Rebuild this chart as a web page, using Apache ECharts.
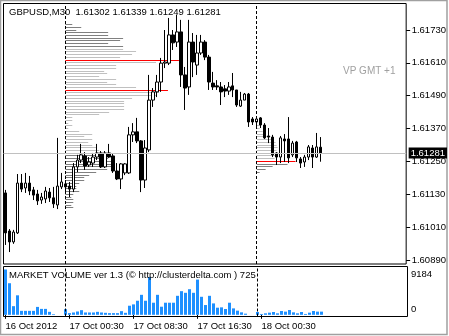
<!DOCTYPE html>
<html><head><meta charset="utf-8">
<script src="https://cdn.jsdelivr.net/npm/echarts@6/dist/echarts.min.js"></script>
<style>html,body{margin:0;padding:0;background:#fff;}#c{width:449px;height:336px;}</style>
</head><body><div id="c"></div>
<script>
const symbolName = 'GBPUSD,M30';
const FONT = '"Liberation Sans", Arial, sans-serif';

// candles: [open, close, low, high], first bar = 16 Oct 16:30, M30
const candles = [
[1.61135,1.60989,1.60945,1.61146],[1.60996,1.60956,1.60919,1.61003],[1.60956,1.60992,1.60949,1.61000],
[1.60989,1.61171,1.60985,1.61204],[1.61171,1.61149,1.61138,1.61204],[1.61153,1.61171,1.61135,1.61208],
[1.61171,1.61142,1.61127,1.61197],[1.61146,1.61127,1.61109,1.61157],[1.61131,1.61106,1.61091,1.61146],
[1.61109,1.61120,1.61095,1.61135],[1.61113,1.61142,1.61098,1.61157],[1.61138,1.61117,1.61102,1.61153],
[1.61117,1.61095,1.61080,1.61157],[1.61091,1.61160,1.61076,1.61336],[1.61157,1.61175,1.61149,1.61208],
[1.61168,1.61157,1.61138,1.61182],[1.61160,1.61149,1.61120,1.61175],[1.61149,1.61230,1.61138,1.61244],
[1.61230,1.61255,1.61211,1.61274],[1.61255,1.61274,1.61244,1.61314],[1.61270,1.61233,1.61219,1.61284],
[1.61237,1.61248,1.61230,1.61266],[1.61244,1.61266,1.61230,1.61281],[1.61266,1.61281,1.61255,1.61314],
[1.61281,1.61230,1.61226,1.61288],[1.61230,1.61281,1.61226,1.61288],[1.61281,1.61266,1.61263,1.61314],
[1.61270,1.61215,1.61208,1.61277],[1.61215,1.61186,1.61182,1.61244],[1.61186,1.61241,1.61149,1.61244],
[1.61208,1.61241,1.61200,1.61244],[1.61208,1.61347,1.61204,1.61376],[1.61347,1.61358,1.61321,1.61390],
[1.61358,1.61325,1.61317,1.61409],[1.61325,1.61182,1.61138,1.61328],[1.61182,1.61299,1.61153,1.61328],
[1.61292,1.61474,1.61284,1.61566],[1.61474,1.61504,1.61449,1.61518],[1.61504,1.61540,1.61485,1.61566],
[1.61540,1.61609,1.61504,1.61628],[1.61609,1.61613,1.61591,1.61730],[1.61609,1.61712,1.61602,1.61774],
[1.61712,1.61683,1.61657,1.61730],[1.61686,1.61723,1.61668,1.61785],[1.61723,1.61566,1.61522,1.61767],
[1.61566,1.61518,1.61438,1.61595],[1.61522,1.61686,1.61493,1.61767],[1.61686,1.61613,1.61558,1.61719],
[1.61602,1.61646,1.61566,1.61712],[1.61646,1.61686,1.61639,1.61712],[1.61686,1.61631,1.61620,1.61693],
[1.61631,1.61540,1.61511,1.61639],[1.61536,1.61522,1.61511,1.61577],[1.61526,1.61522,1.61511,1.61547],
[1.61522,1.61504,1.61456,1.61540],[1.61515,1.61507,1.61485,1.61529],[1.61507,1.61522,1.61493,1.61540],
[1.61526,1.61511,1.61485,1.61573],[1.61511,1.61456,1.61449,1.61511],[1.61452,1.61474,1.61449,1.61504],
[1.61474,1.61496,1.61474,1.61500],[1.61496,1.61394,1.61376,1.61500],[1.61405,1.61394,1.61383,1.61412],
[1.61394,1.61405,1.61376,1.61412],[1.61409,1.61383,1.61372,1.61412],[1.61383,1.61336,1.61332,1.61390],
[1.61343,1.61339,1.61317,1.61372],[1.61339,1.61274,1.61266,1.61347],[1.61281,1.61266,1.61237,1.61284],
[1.61266,1.61336,1.61244,1.61343],[1.61332,1.61325,1.61248,1.61350],[1.61332,1.61263,1.61244,1.61412],
[1.61274,1.61317,1.61266,1.61325],[1.61321,1.61263,1.61248,1.61325],[1.61259,1.61244,1.61226,1.61266],
[1.61248,1.61266,1.61230,1.61274],[1.61266,1.61303,1.61255,1.61310],[1.61299,1.61266,1.61226,1.61310],
[1.61266,1.61303,1.61263,1.61354],[1.61302,1.61281,1.61249,1.61339]
];

const volumes = [
9184,6400,1750,3950,800,800,800,800,1600,1200,1200,600,130,0,0,1140,
340,470,670,940,470,470,470,600,470,400,340,340,340,740,400,1840,
2110,2850,4050,2850,7670,2450,4050,1640,2450,2450,2450,3850,4790,4460,5190,4460,
7140,3650,1980,3850,2310,1440,1510,1170,2450,1300,840,500,230,0,0,
570,170,300,435,570,300,770,640,970,500,300,570,170,435,770,640,640
];

const priceTicks = [1.61730,1.61610,1.61490,1.61370,1.61250,1.61130,1.61010,1.60890];
const volumeTicks = [0, 9184];
const timeTickIdx = [0,16,32,48,64];
const timeTickText = ['16 Oct 2012','17 Oct 00:30','17 Oct 08:30','17 Oct 16:30','18 Oct 00:30'];
const daySeparatorIdx = [15, 63];
const currentPrice = 1.61281;

// volume profile 17 Oct (start bar 15)
const vp17Prices = [1.6175,1.6174,1.6173,1.6172,1.6171,1.6170,1.6169,1.6168,1.6167,1.6166,1.6165,1.6164,1.6163,1.6162,1.6161,1.6160,1.6159,1.6158,1.6157,1.6156,1.6155,1.6154,1.6153,1.6152,1.6151,1.6150,1.6149,1.6148,1.6147,1.6146,1.6145,1.6144,1.6143,1.6142,1.6141,1.6140,1.6139,1.6138,1.6137,1.6136,1.6135,1.6134,1.6133,1.6132,1.6131,1.6130,1.6129,1.6128,1.6127,1.6126,1.6125,1.6124,1.6123,1.6122,1.6121,1.6120,1.6119,1.6118,1.6117,1.6116,1.6115,1.6114,1.6113,1.6112,1.6111,1.6110,1.6109,1.6108];
const vp17Vol = [7,16,11,43,43,58,55,43,58,58,71,67,55,114,91,51,51,39,42,34,51,42,51,71,103,94,91,67,59,59,59,59,44,34,7,7,3,7,3,14,27,19,27,23,27,31,34,39,42,43,49,49,48,42,31,24,19,19,14,11,11,14,8,6,8,8,6,8];
const vp17Start = 15, vp17VaHigh = 1.6166, vp17VaLow = 1.6129, vp17Poc = [1.6162, 1.6151];
// volume profile 18 Oct (start bar 63)
const vp18Prices = [1.6138,1.6137,1.6136,1.6135,1.6134,1.6133,1.6132,1.6131,1.6130,1.6129,1.6128,1.6127,1.6126,1.6125,1.6124,1.6123,1.6122,1.6121];
const vp18Vol = [4,3,6,9,14,16,19,20,21,20,23,19,18,39,31,16,9,3];
const vp18Start = 63, vp18VaHigh = 1.6138, vp18VaLow = 1.6126, vp18Poc = [1.6125];

const TOTAL_BARS = 101;
const categories = [];
(function(){
  const t0 = Date.UTC(2012, 9, 16, 16, 30);
  const p = n => (n < 10 ? '0' : '') + n;
  for (let i = 0; i < TOTAL_BARS; i++) {
    const d = new Date(t0 + i * 1800000);
    categories.push(d.getUTCDate() + ' Oct ' + p(d.getUTCHours()) + ':' + p(d.getUTCMinutes()));
  }
})();

function buildProfile(prices, vols, start, vaH, vaL, pocs) {
  return prices.map((pr, i) => {
    let kind = (pr <= vaH + 1e-9 && pr >= vaL - 1e-9) ? 0 : 1;
    if (pocs.some(q => Math.abs(q - pr) < 1e-9)) kind = 2;
    return [start, pr, vols[i], kind];
  });
}
const profileData = buildProfile(vp17Prices, vp17Vol, vp17Start, vp17VaHigh, vp17VaLow, vp17Poc)
  .concat(buildProfile(vp18Prices, vp18Vol, vp18Start, vp18VaHigh, vp18VaLow, vp18Poc));
const profileColors = ['#c0c0c0', '#808080', '#ff0000'];

const last = candles[candles.length - 1];
const fmt = v => v.toFixed(5);
const header = symbolName + '  ' + fmt(last[0]) + ' ' + fmt(last[3]) + ' ' + fmt(last[2]) + ' ' + fmt(last[1]);

const chart = echarts.init(document.getElementById('c'), null, {renderer: 'canvas'});
const txt = {fontFamily: FONT, fontSize: 9.5, color: '#000', fontWeight: 'normal'};
const sepStyle = {color: '#000', type: [3, 2], width: 1};

chart.setOption({
  animation: false,
  backgroundColor: '#fff',
  textStyle: {fontFamily: FONT},
  title: [
    {text: header, left: 9, top: 7, padding: 0, textStyle: txt},
    {text: 'VP GMT +1', left: 343, top: 66, padding: 0, textStyle: Object.assign({}, txt, {color: '#a0a0a0', fontSize: 10})},
    {text: 'MARKET VOLUME ver 1.3 (\u00a9 http://clusterdelta.com ) 725', left: 9, top: 270.5, padding: 0, textStyle: txt}
  ],
  graphic: [{type: 'rect', shape: {x: 0.5, y: 0.5, width: 446.5, height: 334}, style: {fill: null, stroke: '#a0a0a0', lineWidth: 1.5}, silent: true}],
  grid: [
    {left: 3.5, top: 3.5, width: 404, height: 260.5, show: true, borderColor: '#000', borderWidth: 1, backgroundColor: 'transparent'},
    {left: 3.5, top: 266.5, width: 404, height: 50, show: true, borderColor: '#000', borderWidth: 1, backgroundColor: 'transparent'}
  ],
  xAxis: [
    {type: 'category', gridIndex: 0, data: categories, boundaryGap: true,
     axisLine: {show: false}, axisTick: {show: false}, axisLabel: {show: false}, splitLine: {show: false}},
    {type: 'category', gridIndex: 1, data: categories, boundaryGap: true,
     axisLine: {show: false},
     axisTick: {show: true, alignWithLabel: true, length: 4, interval: i => timeTickIdx.includes(i), lineStyle: {color: '#000'}},
     axisLabel: {show: true, interval: i => timeTickIdx.includes(i), align: 'left', margin: 5,
       fontFamily: FONT, fontSize: 9.5, color: '#000',
       formatter: (v, i) => { const k = timeTickIdx.indexOf(i); return k >= 0 ? timeTickText[k] : ''; }},
     splitLine: {show: false}}
  ],
  yAxis: [
    {type: 'value', gridIndex: 0, position: 'right', min: 1.608754, max: 1.618268, scale: true,
     axisLine: {show: false}, splitLine: {show: false},
     axisTick: {show: true, length: 4, customValues: priceTicks, lineStyle: {color: '#000'}},
     axisLabel: {show: true, customValues: priceTicks, margin: 5.5, fontFamily: FONT, fontSize: 9.5, color: '#000', formatter: v => v.toFixed(5)}},
    {type: 'value', gridIndex: 1, position: 'right', min: -345, max: 9792,
     axisLine: {show: false}, splitLine: {show: false}, axisTick: {show: false},
     axisLabel: {show: true, customValues: volumeTicks, margin: 3.5, fontFamily: FONT, fontSize: 9.5, color: '#000',
       formatter: v => v > 0 ? '{t|' + v + '}' : '{b|' + v + '}',
       rich: {t: {padding: [9, 0, 0, 0], fontFamily: FONT, fontSize: 9.5, color: '#000'},
              b: {padding: [0, 0, 11, 0], fontFamily: FONT, fontSize: 9.5, color: '#000'}}}}
  ],
  series: [
    {type: 'custom', xAxisIndex: 0, yAxisIndex: 0, z: 2, silent: true, clip: true,
     data: profileData, encode: {x: 0, y: 1},
     renderItem: function (params, api) {
       const pt = api.coord([api.value(0), api.value(1)]);
       const band = api.size([1, 0])[0];
       const w = api.value(2) * band / 4;
       return {type: 'rect', shape: {x: pt[0], y: Math.floor(pt[1]), width: w, height: 1},
               style: {fill: profileColors[api.value(3)]}};
     }},
    {type: 'candlestick', xAxisIndex: 0, yAxisIndex: 0, data: candles, z: 3, barWidth: 3,
     itemStyle: {color: '#fff', color0: '#000', borderColor: '#000', borderColor0: '#000', borderWidth: 1},
     markLine: {symbol: 'none', silent: true, animation: false, precision: 5, label: {show: false}, lineStyle: sepStyle,
       data: daySeparatorIdx.map(i => ({xAxis: categories[i]})).concat([{
         yAxis: currentPrice,
         lineStyle: {color: '#c0c0c0', type: 'solid', width: 1},
         label: {show: true, position: 'end', distance: 2.5, formatter: () => currentPrice.toFixed(5),
           backgroundColor: '#000', color: '#fff', padding: [1, 2, 0, 2], fontFamily: FONT, fontSize: 9.5}
       }])}},
    {type: 'bar', xAxisIndex: 1, yAxisIndex: 1, data: volumes, barWidth: 3, z: 3,
     itemStyle: {color: '#1e90ff'},
     markLine: {symbol: 'none', silent: true, animation: false, label: {show: false}, lineStyle: sepStyle,
       data: daySeparatorIdx.map(i => ({xAxis: categories[i]}))}}
  ]
});
</script></body></html>
